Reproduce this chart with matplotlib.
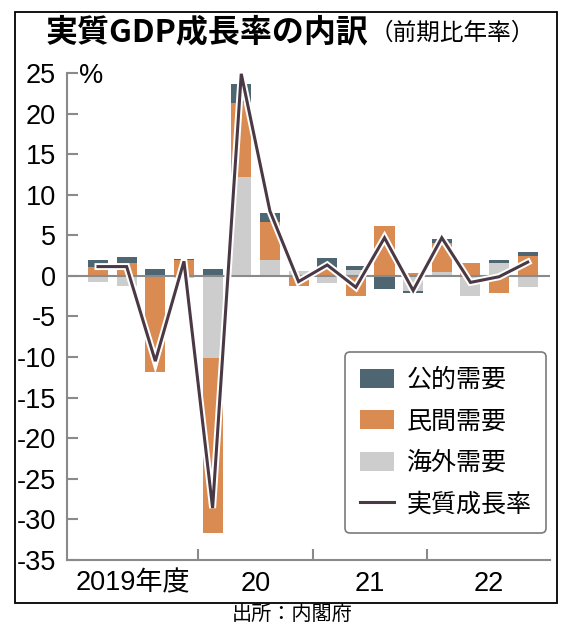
import matplotlib
matplotlib.use("Agg")
import matplotlib.pyplot as plt
import matplotlib.patheffects as pe
from matplotlib.patches import Rectangle, Patch
from matplotlib.lines import Line2D
from matplotlib import font_manager
import numpy as np

# ---------------- data ----------------
quarters = list(range(16))  # FY2019 Q1 ... FY2022 Q4
year_labels = ["2019年度", "20", "21", "22"]
public = [0.8, 0.8, 0.8, 0.1, 0.8, 2.3, 1.1, 0.0, 1.0, 0.5, -1.6, -0.25, 0.5, 0.0, 0.3, 0.5]
private = [1.15, 1.55, -11.8, 2.0, -21.6, 9.1, 4.6, -1.2, 1.15, -2.5, 6.2, 0.3, 3.5, 1.55, -2.05, 2.4]
foreign = [-0.7, -1.25, 0.0, -0.3, -10.1, 12.2, 2.0, 0.6, -0.9, 0.7, 0.0, -1.8, 0.5, -2.45, 1.65, -1.4]
gdp = [1.15, 1.15, -10.5, 1.8, -28.6, 24.9, 8.0, -0.7, 1.35, -1.4, 4.7, -1.8, 4.7, -0.8, -0.1, 1.7]
y_ticks = [25, 20, 15, 10, 5, 0, -5, -10, -15, -20, -25, -30, -35]
legend_labels = ["公的需要", "民間需要", "海外需要", "実質成長率"]

# ---------------- style ----------------
CJK = "Noto Sans CJK JP"
names = {f.name for f in font_manager.fontManager.ttflist}
NUM = "Liberation Sans Narrow" if "Liberation Sans Narrow" in names else "Liberation Sans"
plt.rcParams["font.family"] = [NUM, CJK, "DejaVu Sans"]

C_PUB = "#4d6672"
C_PRI = "#d98b52"
C_FOR = "#cdcdcd"
C_LINE = "#4a3944"
C_AX = "#8a8a8a"

W, H = 562, 628
fig = plt.figure(figsize=(W / 100, H / 100), dpi=100)

def fx(x):
    return x / W

def fy(y):
    return 1 - y / H

ax_left, ax_right, ax_top, ax_bot = 67, 550, 73, 560
ax = fig.add_axes([fx(ax_left), fy(ax_bot), fx(ax_right - ax_left), (ax_bot - ax_top) / H])

x = np.array(quarters, dtype=float)
pos = np.zeros(len(x))
neg = np.zeros(len(x))
for vals, col in [(foreign, C_FOR), (private, C_PRI), (public, C_PUB)]:
    v = np.array(vals, dtype=float)
    bottoms = np.where(v >= 0, pos, neg)
    ax.bar(x, v, bottom=bottoms, width=0.7, color=col, edgecolor="none", zorder=2)
    pos = pos + np.where(v >= 0, v, 0)
    neg = neg + np.where(v < 0, v, 0)

ax.axhline(0, color=C_AX, lw=1.5, zorder=3)
ax.plot(x, gdp, color=C_LINE, lw=2.2, zorder=4, solid_joinstyle="miter",
        path_effects=[pe.Stroke(linewidth=5, foreground="white"), pe.Normal()])

xl = (ax_left - 98) / 28.65
xr = (ax_right - 98) / 28.65
ax.set_xlim(xl, xr)
ax.set_ylim(-35, 25)

for s in ["top", "right"]:
    ax.spines[s].set_visible(False)
for s in ["left", "bottom"]:
    ax.spines[s].set_color(C_AX)
    ax.spines[s].set_linewidth(1.5)

ax.set_yticks(y_ticks)
ax.set_yticklabels([str(t) for t in y_ticks], fontsize=19.5, family=[NUM, CJK])
ax.tick_params(axis="y", direction="in", length=8, width=1.5, color=C_AX, pad=8)

ax.set_xticks([3.5, 7.5, 11.5])
ax.set_xticklabels([])
ax.tick_params(axis="x", direction="in", length=8, width=1.5, color=C_AX)

centers = [(xl + 3.5) / 2, 5.5, 9.5, (11.5 + xr) / 2]
for c, lab in zip(centers, year_labels):
    ax.text(c, -37.9, lab, ha="center", va="center", fontsize=19.5,
            family=[NUM, CJK], clip_on=False)

fig.text(fx(79), fy(76), "%", fontsize=19.5, family=[NUM, CJK], va="center", ha="left")

# title
t1 = fig.text(fx(46), fy(32), "実質GDP成長率の内訳", fontsize=23, weight="bold",
              family=[CJK, "DejaVu Sans"], va="center", ha="left")
fig.canvas.draw()
bb = t1.get_window_extent()
fig.text(bb.x1 / W + fx(1), fy(33), "（前期比年率）", fontsize=17,
         family=[CJK, "DejaVu Sans"], va="center", ha="left")

# frame
fig.patches.append(Rectangle((fx(15), fy(603)), fx(557 - 15), (603 - 12) / H,
                             transform=fig.transFigure, fill=False,
                             edgecolor="black", lw=1.3))

fig.text(fx(292), fy(614), "出所：内閣府", fontsize=14.5, family=[CJK, "DejaVu Sans"],
         ha="center", va="center")

handles = [Patch(facecolor=C_PUB, edgecolor="none"),
           Patch(facecolor=C_PRI, edgecolor="none"),
           Patch(facecolor=C_FOR, edgecolor="none"),
           Line2D([0], [0], color=C_LINE, lw=2.2)]
leg = fig.legend(handles, legend_labels, loc="upper left",
                 bbox_to_anchor=(fx(345), fy(352)), borderaxespad=0,
                 prop={"family": [CJK, "DejaVu Sans"], "size": 18},
                 handlelength=1.35, handleheight=0.8, handletextpad=0.5,
                 labelspacing=0.62, borderpad=0.6, frameon=True, fancybox=True)
fr = leg.get_frame()
fr.set_edgecolor("#7a7a7a")
fr.set_linewidth(1.2)
fr.set_alpha(1)

fig.savefig("out.png", dpi=100)
